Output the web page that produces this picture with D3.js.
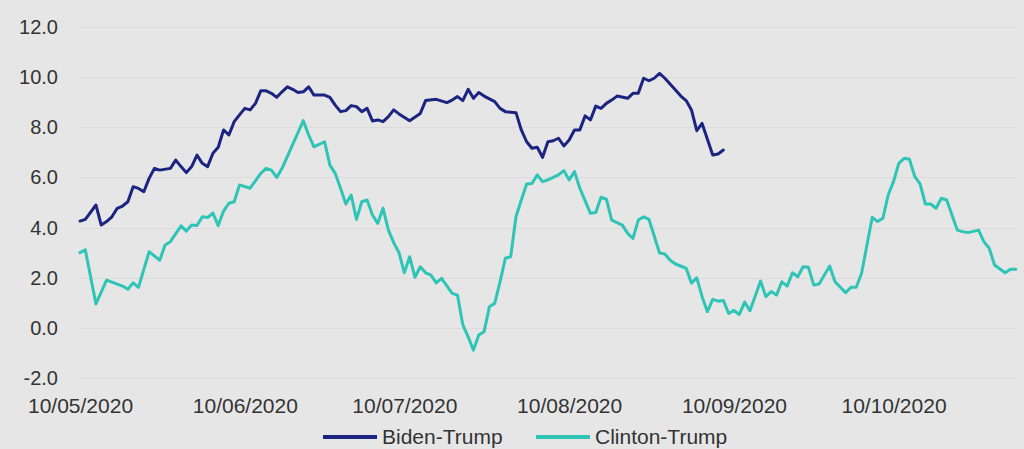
<!DOCTYPE html>
<html>
<head>
<meta charset="utf-8">
<script src="https://cdn.jsdelivr.net/npm/d3@7"></script>
<style>
  html, body { margin: 0; padding: 0; background: #e6e6e6; }
  svg { display: block; }
  text { font-family: "Liberation Sans", Arial, sans-serif; fill: #333; }
</style>
</head>
<body>
<svg id="chart" width="1024" height="449"></svg>
<script>
// Poll margin series, sampled by days since 10 May 2020
const startDate = new Date(Date.UTC(2020, 4, 10));
const endDate = new Date(Date.UTC(2020, 10, 2));

const bidenDay = [0,1,3,4,5,6,7,8,9,10,11,12,13,14,15,17,18,19,20,21,22,23,24,25,26,27,28,29,30,31,32,33,34,35,36,37,38,39,40,41,42,43,44,46,47,48,49,50,51,52,53,54,55,56,57,58,59,60,62,64,65,67,69,70,71,72,73,74,75,76,78,79,80,82,83,84,85,86,87,88,89,90,91,92,93,94,95,96,97,98,99,100,101,103,104,105,106,107,108,109,110,112,113,114,115,116,117,119,120,121];
const bidenValue = [4.26,4.33,4.9,4.1,4.24,4.43,4.77,4.86,5.03,5.63,5.56,5.43,5.96,6.36,6.29,6.36,6.69,6.43,6.19,6.43,6.89,6.56,6.43,6.96,7.2,7.89,7.69,8.22,8.49,8.75,8.69,8.95,9.45,9.45,9.35,9.19,9.41,9.61,9.51,9.38,9.41,9.61,9.28,9.28,9.19,8.88,8.62,8.66,8.86,8.82,8.62,8.75,8.25,8.29,8.22,8.42,8.69,8.53,8.26,8.55,9.06,9.11,8.98,9.08,9.22,9.06,9.51,9.15,9.38,9.24,9.02,8.75,8.62,8.58,7.89,7.42,7.16,7.2,6.8,7.42,7.46,7.56,7.25,7.49,7.89,7.89,8.45,8.29,8.84,8.75,8.95,9.08,9.24,9.15,9.35,9.35,9.95,9.85,9.95,10.14,9.95,9.48,9.24,9.06,8.69,7.86,8.15,6.89,6.93,7.09];

const clintonDay = [0,1,3,5,7,8,9,10,11,13,15,16,17,19,20,21,22,23,24,25,26,27,28,29,30,32,34,35,36,37,38,42,43,44,46,47,48,49,50,51,52,53,54,55,56,57,58,59,60,61,62,63,64,65,66,67,68,70,71,72,73,74,75,76,77,78,79,80,81,82,83,84,85,86,87,88,90,91,92,93,94,96,97,98,99,100,102,103,104,105,106,107,109,110,111,112,114,115,116,117,118,119,120,121,122,123,124,125,126,128,129,130,131,132,133,134,135,136,137,138,139,141,142,144,145,146,147,149,150,151,152,153,154,155,156,157,158,159,160,161,162,163,165,166,167,169,170,171,172,174,175,176];
const clintonValue = [3.0,3.11,0.96,1.91,1.75,1.67,1.54,1.8,1.62,3.04,2.7,3.31,3.44,4.07,3.86,4.1,4.08,4.43,4.4,4.58,4.08,4.66,4.97,5.03,5.7,5.57,6.16,6.36,6.29,6.0,6.36,8.26,7.69,7.22,7.42,6.49,6.16,5.57,4.94,5.3,4.33,5.03,5.1,4.5,4.17,4.77,3.9,3.4,3.0,2.2,2.84,2.02,2.44,2.2,2.11,1.8,1.98,1.38,1.31,0.12,-0.35,-0.88,-0.28,-0.15,0.85,0.98,1.84,2.78,2.84,4.43,5.1,5.74,5.76,6.1,5.83,5.9,6.1,6.27,5.9,6.23,5.57,4.57,4.6,5.21,5.13,4.3,4.1,3.77,3.57,4.3,4.43,4.33,2.99,2.95,2.7,2.55,2.38,1.79,2.0,1.25,0.65,1.14,1.07,1.1,0.58,0.7,0.54,1.03,0.69,1.87,1.25,1.45,1.31,1.84,1.67,2.2,2.04,2.44,2.42,1.71,1.75,2.47,1.84,1.41,1.62,1.62,2.18,4.41,4.24,4.37,5.3,5.83,6.56,6.76,6.72,6.03,5.74,4.94,4.94,4.77,5.17,5.1,3.9,3.84,3.8,3.9,3.44,3.18,2.51,2.2,2.34,2.34];

const yTicks = [-2, 0, 2, 4, 6, 8, 10, 12];
const xTickDates = ["2020-05-10","2020-06-10","2020-07-10","2020-08-10","2020-09-10","2020-10-10"];
const seriesNames = ["Biden-Trump", "Clinton-Trump"];
const seriesColors = ["#1b2480", "#2ec4b6"];

const svg = d3.select("#chart");
const W = 1024, H = 449;

svg.append("rect").attr("width", W).attr("height", H).attr("fill", "#e6e6e6");

const x = d3.scaleUtc().domain([startDate, endDate]).range([80, 80 + 176 * 5.317]);
const y = d3.scaleLinear().domain([-2, 12]).range([378.2, 26.8]);

const dayToDate = d => new Date(startDate.getTime() + d * 864e5);

// horizontal gridlines
svg.append("g").selectAll("line").data(yTicks).join("line")
  .attr("x1", x.range()[0]).attr("x2", x.range()[1])
  .attr("y1", d => Math.round(y(d)) + 0.5).attr("y2", d => Math.round(y(d)) + 0.5)
  .attr("stroke", "#dbdbdb").attr("stroke-width", 1);

// y axis labels (plain hyphen for negatives)
const yAxis = d3.axisLeft(y).tickValues(yTicks).tickFormat(d => d.toFixed(1)).tickSize(0).tickPadding(0);
const gy = svg.append("g").attr("transform", "translate(58,0)").call(yAxis);
gy.select(".domain").remove();
gy.selectAll("text").attr("font-size", 20).attr("fill", "#333")
  .attr("font-family", "'Liberation Sans', Arial, sans-serif");

// x axis labels
const parseDay = d3.utcParse("%Y-%m-%d");
const xAxis = d3.axisBottom(x).tickValues(xTickDates.map(parseDay))
  .tickFormat(d3.utcFormat("%d/%m/%Y")).tickSize(0).tickPadding(0);
const gx = svg.append("g").attr("transform", "translate(0,397)").call(xAxis);
gx.select(".domain").remove();
gx.selectAll("text").attr("font-size", 21).attr("fill", "#333").attr("dy", "0.76em")
  .attr("font-family", "'Liberation Sans', Arial, sans-serif");

// series lines
const line = d3.line().x(d => x(d.date)).y(d => y(d.value));
const series = [
  bidenDay.map((d, i) => ({ date: dayToDate(d), value: bidenValue[i] })),
  clintonDay.map((d, i) => ({ date: dayToDate(d), value: clintonValue[i] }))
];
// draw Clinton first so Biden sits on top
[1, 0].forEach(k => {
  svg.append("path").datum(series[k])
    .attr("d", line)
    .attr("fill", "none")
    .attr("stroke", seriesColors[k])
    .attr("stroke-width", 3)
    .attr("stroke-linejoin", "round")
    .attr("stroke-linecap", "round");
});

// legend
const legendX = [323, 536];
const leg = svg.append("g");
seriesNames.forEach((name, i) => {
  leg.append("line")
    .attr("x1", legendX[i]).attr("x2", legendX[i] + 54)
    .attr("y1", 437).attr("y2", 437)
    .attr("stroke", seriesColors[i]).attr("stroke-width", 4);
  leg.append("text")
    .attr("x", legendX[i] + 59).attr("y", 444)
    .attr("font-size", 21).attr("fill", "#333")
    .text(name);
});
</script>
</body>
</html>
